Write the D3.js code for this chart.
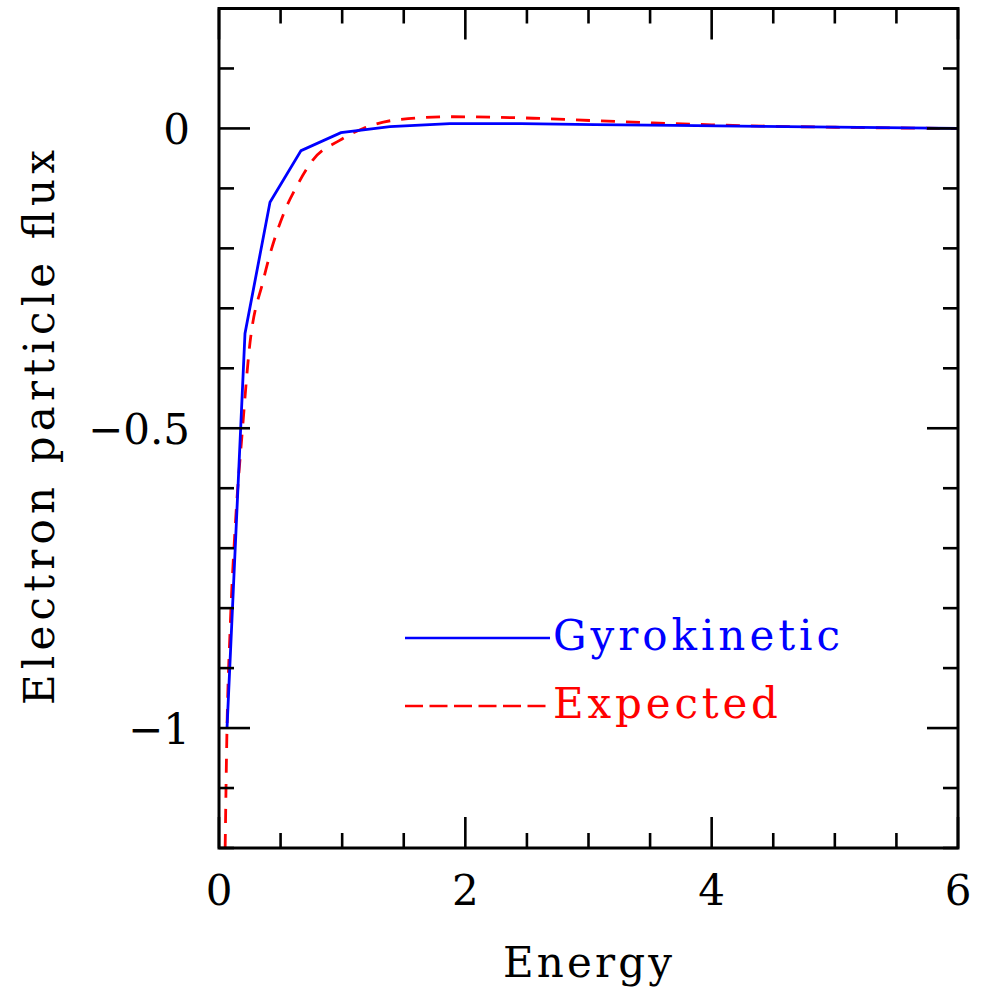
<!DOCTYPE html>
<html>
<head>
<meta charset="utf-8">
<script src="https://cdn.jsdelivr.net/npm/d3@7/dist/d3.min.js"></script>
<style>
  html, body { margin: 0; padding: 0; background: #fff; }
  svg { display: block; }
  text { font-family: "DejaVu Serif", serif; }
</style>
</head>
<body>
<svg id="chart" width="986" height="990"></svg>
<script>
// ---- data ----
const gyroEnergy = [0.065, 0.211, 0.414, 0.666, 0.990, 1.388, 1.875, 2.45, 3.05, 3.7, 4.4, 5.2, 6.0];
const gyroFlux   = [-1.0, -0.342, -0.123, -0.037, -0.007, 0.003, 0.008, 0.008, 0.0065, 0.005, 0.0035, 0.0017, 0.0];

const expectedEnergy = [0.05, 0.065, 0.09, 0.13, 0.19, 0.245, 0.36, 0.535, 0.635, 0.765, 0.98, 1.17, 1.47, 1.9, 2.55, 3.04, 4.0, 5.1, 6.0];
const expectedFlux   = [-1.2, -1.0, -0.837, -0.67, -0.503, -0.37, -0.253, -0.137, -0.095, -0.052, -0.02, 0.0, 0.015, 0.0195, 0.017, 0.013, 0.006, 0.0017, 0.0];

const xMajorTicks = [0, 2, 4, 6];
const xTickLabels = ["0", "2", "4", "6"];
const yMajorTicks = [0, -0.5, -1];
const yTickLabels = ["0", "\u22120.5", "\u22121"];
const seriesNames = ["Gyrokinetic", "Expected"];
const xTitle = "Energy";
const yTitle = "Electron particle flux";

// ---- layout ----
const L = 219, R = 958, T = 8.5, B = 848;
const svg = d3.select("#chart");
const x = d3.scaleLinear().domain([0, 6]).range([L, R]);
const y = d3.scaleLinear().domain([-1.2, 0.2]).range([B, T]);

svg.append("defs").append("clipPath").attr("id", "clip")
  .append("rect").attr("x", L).attr("y", T).attr("width", R - L).attr("height", B - T);

// data lines
const gyro = gyroEnergy.map((e, i) => [e, gyroFlux[i]]);
const expd = expectedEnergy.map((e, i) => [e, expectedFlux[i]]);

const plot = svg.append("g").attr("clip-path", "url(#clip)");
plot.append("path").datum(expd)
  .attr("d", d3.line().x(d => x(d[0])).y(d => y(d[1])).curve(d3.curveMonotoneX))
  .attr("fill", "none").attr("stroke", "#ff0000").attr("stroke-width", 2.8)
  .attr("stroke-dasharray", "14,11");
plot.append("path").datum(gyro)
  .attr("d", d3.line().x(d => x(d[0])).y(d => y(d[1])))
  .attr("fill", "none").attr("stroke", "#0000ff").attr("stroke-width", 2.8);

// axes with inward ticks
const tk = { stroke: "#000", "stroke-width": 2.6 };
function tickLine(x1, y1, x2, y2) {
  svg.append("line").attr("x1", x1).attr("y1", y1).attr("x2", x2).attr("y2", y2)
    .attr("stroke", "#000").attr("stroke-width", 2.6);
}
const xMinor = d3.range(0, 6.0001, 0.5);
xMinor.forEach(v => {
  const isMajor = xMajorTicks.some(m => Math.abs(m - v) < 1e-6);
  const len = isMajor ? 31 : 15;
  tickLine(x(v), B, x(v), B - len);
  tickLine(x(v), T, x(v), T + len);
});
const yMinor = d3.range(-1.2, 0.2001, 0.1);
yMinor.forEach(v => {
  const isMajor = yMajorTicks.some(m => Math.abs(m - v) < 1e-6);
  const len = isMajor ? 31 : 15;
  tickLine(L, y(v), L + len, y(v));
  tickLine(R, y(v), R - len, y(v));
});

// frame
svg.append("rect").attr("x", L).attr("y", T).attr("width", R - L).attr("height", B - T)
  .attr("fill", "none").attr("stroke", "#000").attr("stroke-width", 3);

// tick labels
const fs = 42;
svg.append("g").selectAll("text").data(xMajorTicks).join("text")
  .attr("x", d => x(d)).attr("y", 905)
  .attr("text-anchor", "middle").attr("font-size", fs)
  .text((d, i) => xTickLabels[i]);
svg.append("g").selectAll("text").data(yMajorTicks).join("text")
  .attr("x", 190).attr("y", d => y(d) + 16)
  .attr("text-anchor", "end").attr("font-size", fs)
  .text((d, i) => yTickLabels[i]);

// titles
svg.append("text").attr("x", 503).attr("y", 977)
  .attr("font-size", fs).attr("textLength", 169).attr("lengthAdjust", "spacing")
  .text(xTitle);
svg.append("text").attr("transform", "translate(54,705) rotate(-90)")
  .attr("x", 0).attr("y", 0)
  .attr("font-size", fs).attr("textLength", 555).attr("lengthAdjust", "spacing")
  .text(yTitle);

// legend
const legY = [638, 706];
const legColors = ["#0000ff", "#ff0000"];
const legDash = [null, "18,6.5"];
const legLen = [287, 225];
seriesNames.forEach((name, i) => {
  svg.append("line").attr("x1", 405).attr("x2", 550).attr("y1", legY[i]).attr("y2", legY[i])
    .attr("stroke", legColors[i]).attr("stroke-width", 2.6)
    .attr("stroke-dasharray", legDash[i]);
  svg.append("text").attr("x", 553).attr("y", legY[i] + 12)
    .attr("font-size", fs).attr("fill", legColors[i])
    .attr("textLength", legLen[i]).attr("lengthAdjust", "spacing")
    .text(name);
});
</script>
</body>
</html>
